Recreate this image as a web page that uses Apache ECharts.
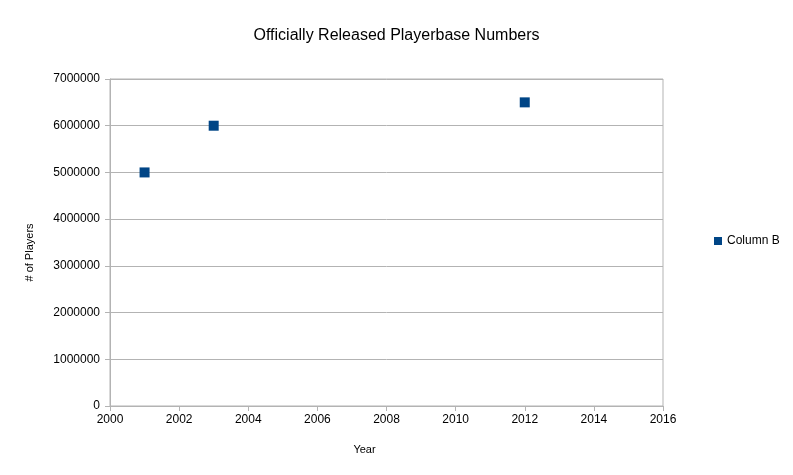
<!DOCTYPE html>
<html>
<head>
<meta charset="utf-8">
<script src="https://cdn.jsdelivr.net/npm/echarts@6/dist/echarts.min.js"></script>
<style>html,body{margin:0;padding:0;background:#fff}#c{width:793px;height:475px}</style>
</head>
<body>
<div id="c"></div>
<script>
const years = [2001, 2003, 2012];
const players = [5000000, 6000000, 6500000];
const seriesName = 'Column B';
const titleText = 'Officially Released Playerbase Numbers';
const xName = 'Year';
const yName = '# of Players';

const chart = echarts.init(document.getElementById('c'), null, {renderer: 'canvas'});
const gray = '#b3b3b3';
const font = 'Liberation Sans';
chart.setOption({
  animation: false,
  backgroundColor: '#fff',
  title: {
    text: titleText, left: 'center', top: 23,
    textStyle: {fontFamily: font, fontSize: 16, fontWeight: 'normal', color: '#000'}
  },
  legend: {
    data: [{name: seriesName, icon: 'rect'}],
    left: 709, top: 230, itemWidth: 8, itemHeight: 8, itemGap: 5,
    textStyle: {fontFamily: font, fontSize: 12, color: '#000'}
  },
  grid: {left: 110, right: 130, top: 79, bottom: 69, show: true, borderColor: gray, borderWidth: 1},
  xAxis: {
    type: 'value', min: 2000, max: 2016, interval: 2,
    name: xName, nameLocation: 'middle', nameGap: 38,
    nameTextStyle: {fontFamily: font, fontSize: 11, color: '#000', padding: [0, 44, 0, 0]},
    axisLine: {show: true, lineStyle: {color: gray}},
    axisTick: {show: true, length: 5, lineStyle: {color: gray}},
    splitLine: {show: false},
    axisLabel: {fontFamily: font, fontSize: 12, color: '#000', margin: 8, formatter: v => String(v)}
  },
  yAxis: {
    type: 'value', min: 0, max: 7000000, interval: 1000000,
    name: yName, nameLocation: 'middle', nameGap: 75, nameRotate: 90,
    nameTextStyle: {fontFamily: font, fontSize: 11, color: '#000', padding: [0, 20, 0, 0]},
    axisLine: {show: true, lineStyle: {color: gray}},
    axisTick: {show: true, length: 5, lineStyle: {color: gray}},
    splitLine: {show: true, lineStyle: {color: gray}},
    axisLabel: {fontFamily: font, fontSize: 12, color: '#000', margin: 10, formatter: v => String(v)}
  },
  series: [{
    name: seriesName, type: 'scatter', symbol: 'rect', symbolSize: 10,
    itemStyle: {color: '#004586', opacity: 1},
    data: years.map((y, i) => [y, players[i]])
  }]
});
</script>
</body>
</html>
